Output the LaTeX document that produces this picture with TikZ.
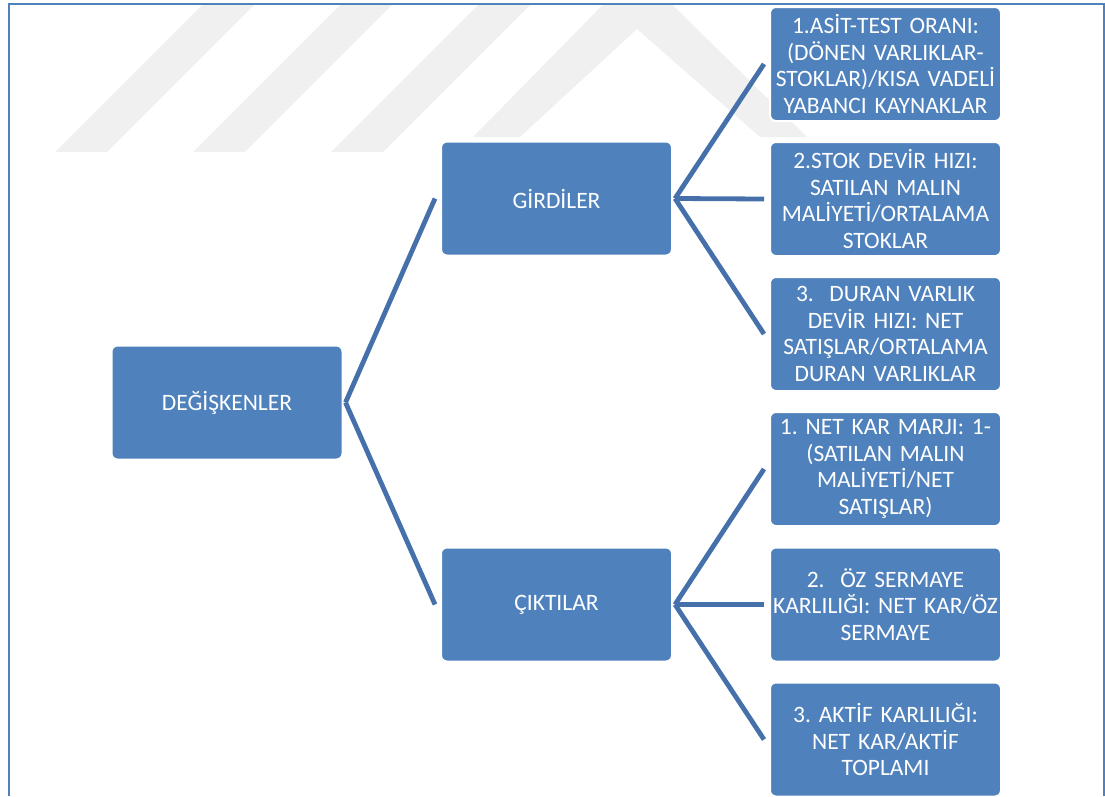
\documentclass[tikz,border=0pt]{standalone}
\usepackage{fontspec}
\setmainfont{Carlito}
\usepackage{tikz}
\usetikzlibrary{positioning,calc}
\definecolor{boxblue}{HTML}{4F81BD}
\definecolor{linkblue}{HTML}{4570AA}
\definecolor{frameblue}{HTML}{4F81BD}
\definecolor{markgray}{HTML}{F0F0F0}

\begin{document}
\begin{tikzpicture}[x=1pt,y=-1pt,
    box/.style={rectangle, rounded corners=6pt, fill=boxblue, draw=white,
      line width=2pt, text=white, text width=227pt, align=center,
      inner sep=2pt, minimum height=114pt,
      font=\fontsize{23.5}{26.5}\selectfont\frenchspacing},
    link/.style={linkblue, line width=4.8pt}]
  \useasboundingbox (0,0) rectangle (1105,796);
  % Watermark
  \begin{scope}
    \clip (9,5) rectangle (1103,796);
    \foreach \bx in {55,193,331}
      \fill[markgray] (\bx,152) -- (\bx+52,152) -- (\bx+212,-8) -- (\bx+160,-8) -- cycle;
    \fill[markgray] (473,137) -- (520,137) -- (637,29) -- (760,137)
      -- (807,137) -- (637,-30) -- cycle;
  \end{scope}
  % Frame
  \draw[frameblue, line width=2pt] (8.5,796) -- (8.5,4) -- (1104,4) -- (1104,796);
  % Root and the two groups
  \node[box] (degisken) at (227,402.5) {DEĞİŞKENLER};
  \node[box] (girdi) at (556.5,198.5) {GİRDİLER};
  \node[box] (cikti) at (556.5,604.5) {ÇIKTILAR};
  % Inputs
  \node[box] (girdi1) at (885.5,64) {1.ASİT-TEST ORANI:\\(DÖNEN VARLIKLAR-\\STOKLAR)/KISA VADELİ\\YABANCI KAYNAKLAR};
  \node[box] (girdi2) at (885.5,199) {2.STOK DEVİR HIZI:\\SATILAN MALIN\\MALİYETİ/ORTALAMA\\STOKLAR};
  \node[box] (girdi3) at (885.5,334) {3.\ \ DURAN VARLIK\\DEVİR HIZI: NET\\SATIŞLAR/ORTALAMA\\DURAN VARLIKLAR};
  % Outputs
  \node[box] (cikti1) at (885.5,469) {1. NET KAR MARJI: 1-\\(SATILAN MALIN\\MALİYETİ/NET\\SATIŞLAR)};
  \node[box] (cikti2) at (885.5,604.5) {2.\ \ ÖZ SERMAYE\\KARLILIĞI: NET KAR/ÖZ\\SERMAYE};
  \node[box] (cikti3) at (885.5,739.5) {3. AKTİF KARLILIĞI:\\NET KAR/AKTİF\\TOPLAMI};
  % Connectors
  \foreach \to in {girdi,cikti}
    \draw[link] ($(degisken.east)+(2,0)$) -- ($(\to.west)+(-5,0)$);
  \foreach \from in {girdi,cikti}
    \foreach \i in {1,2,3}
      \draw[link] ($(\from.east)+(2,0)$) -- ($(\from\i.west)+(-5,0)$);
\end{tikzpicture}
\end{document}
